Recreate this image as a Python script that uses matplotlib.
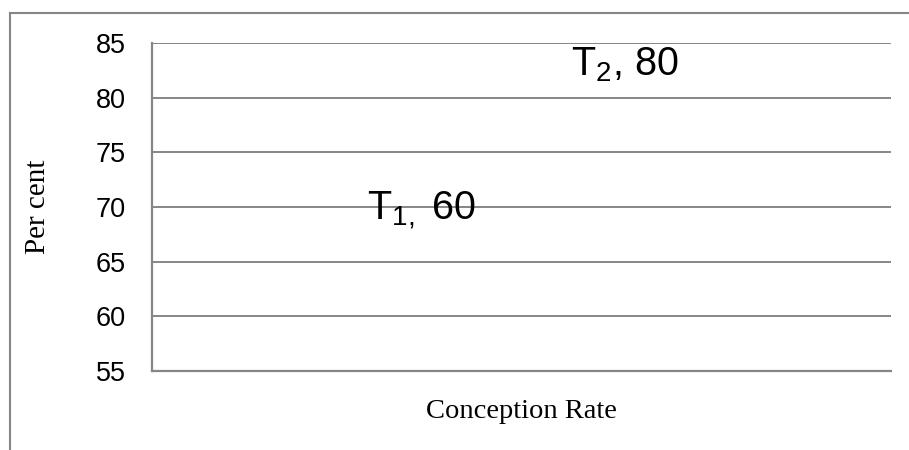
import matplotlib
matplotlib.use("Agg")
import matplotlib.pyplot as plt
from matplotlib.lines import Line2D

# data
series_names = ["T$_{1,}$", "T$_{2}$,"]
values = [60, 80]
category = "Conception Rate"
y_ticks = [55, 60, 65, 70, 75, 80, 85]

# layout (label anchor positions, as placed in the original chart)
bar_x = [-0.27, 0.28]
label_y = [69.6, 83.0]

grid_color = "#868686"

plt.rcParams["mathtext.fontset"] = "custom"
plt.rcParams["mathtext.rm"] = "Liberation Sans"
plt.rcParams["mathtext.it"] = "Liberation Sans"

fig = plt.figure(figsize=(9.09, 4.5), dpi=100)
ax = fig.add_axes([0.1672, 0.1756, 0.8127, 0.7289])

# bars are drawn with no fill, as in the source
ax.bar(bar_x, values, width=0.4, facecolor="none", edgecolor="none")

for x, y, name, v in zip(bar_x, label_y, series_names, values):
    ax.text(x, y, f"{name} {v}", ha="center", va="center",
            fontsize=28.5, family="Liberation Sans", color="black")

ax.set_xlim(-1, 1)
ax.set_ylim(55, 85)
ax.set_yticks(y_ticks)
ax.set_xticks([])
ax.yaxis.grid(True, color=grid_color, linewidth=1.4)
ax.set_axisbelow(True)
ax.tick_params(axis="y", length=0, pad=19, labelsize=19.5)
for lbl in ax.get_yticklabels():
    lbl.set_family("Liberation Sans")

for side in ["top", "right"]:
    ax.spines[side].set_visible(False)
for side in ["left", "bottom"]:
    ax.spines[side].set_color(grid_color)
    ax.spines[side].set_linewidth(1.6)

ax.set_ylabel("Per cent", family="Liberation Serif", fontsize=21, labelpad=32)
ax.set_xlabel(category, family="Liberation Serif", fontsize=20.5, labelpad=20)

# outer chart border (left and top edges visible)
fig.add_artist(Line2D([0.0105, 0.0105], [0, 0.971], transform=fig.transFigure,
                      color=grid_color, linewidth=1.5))
fig.add_artist(Line2D([0.0105, 1], [0.971, 0.971], transform=fig.transFigure,
                      color=grid_color, linewidth=1.5))

fig.savefig("out.png", dpi=100, facecolor="white")
